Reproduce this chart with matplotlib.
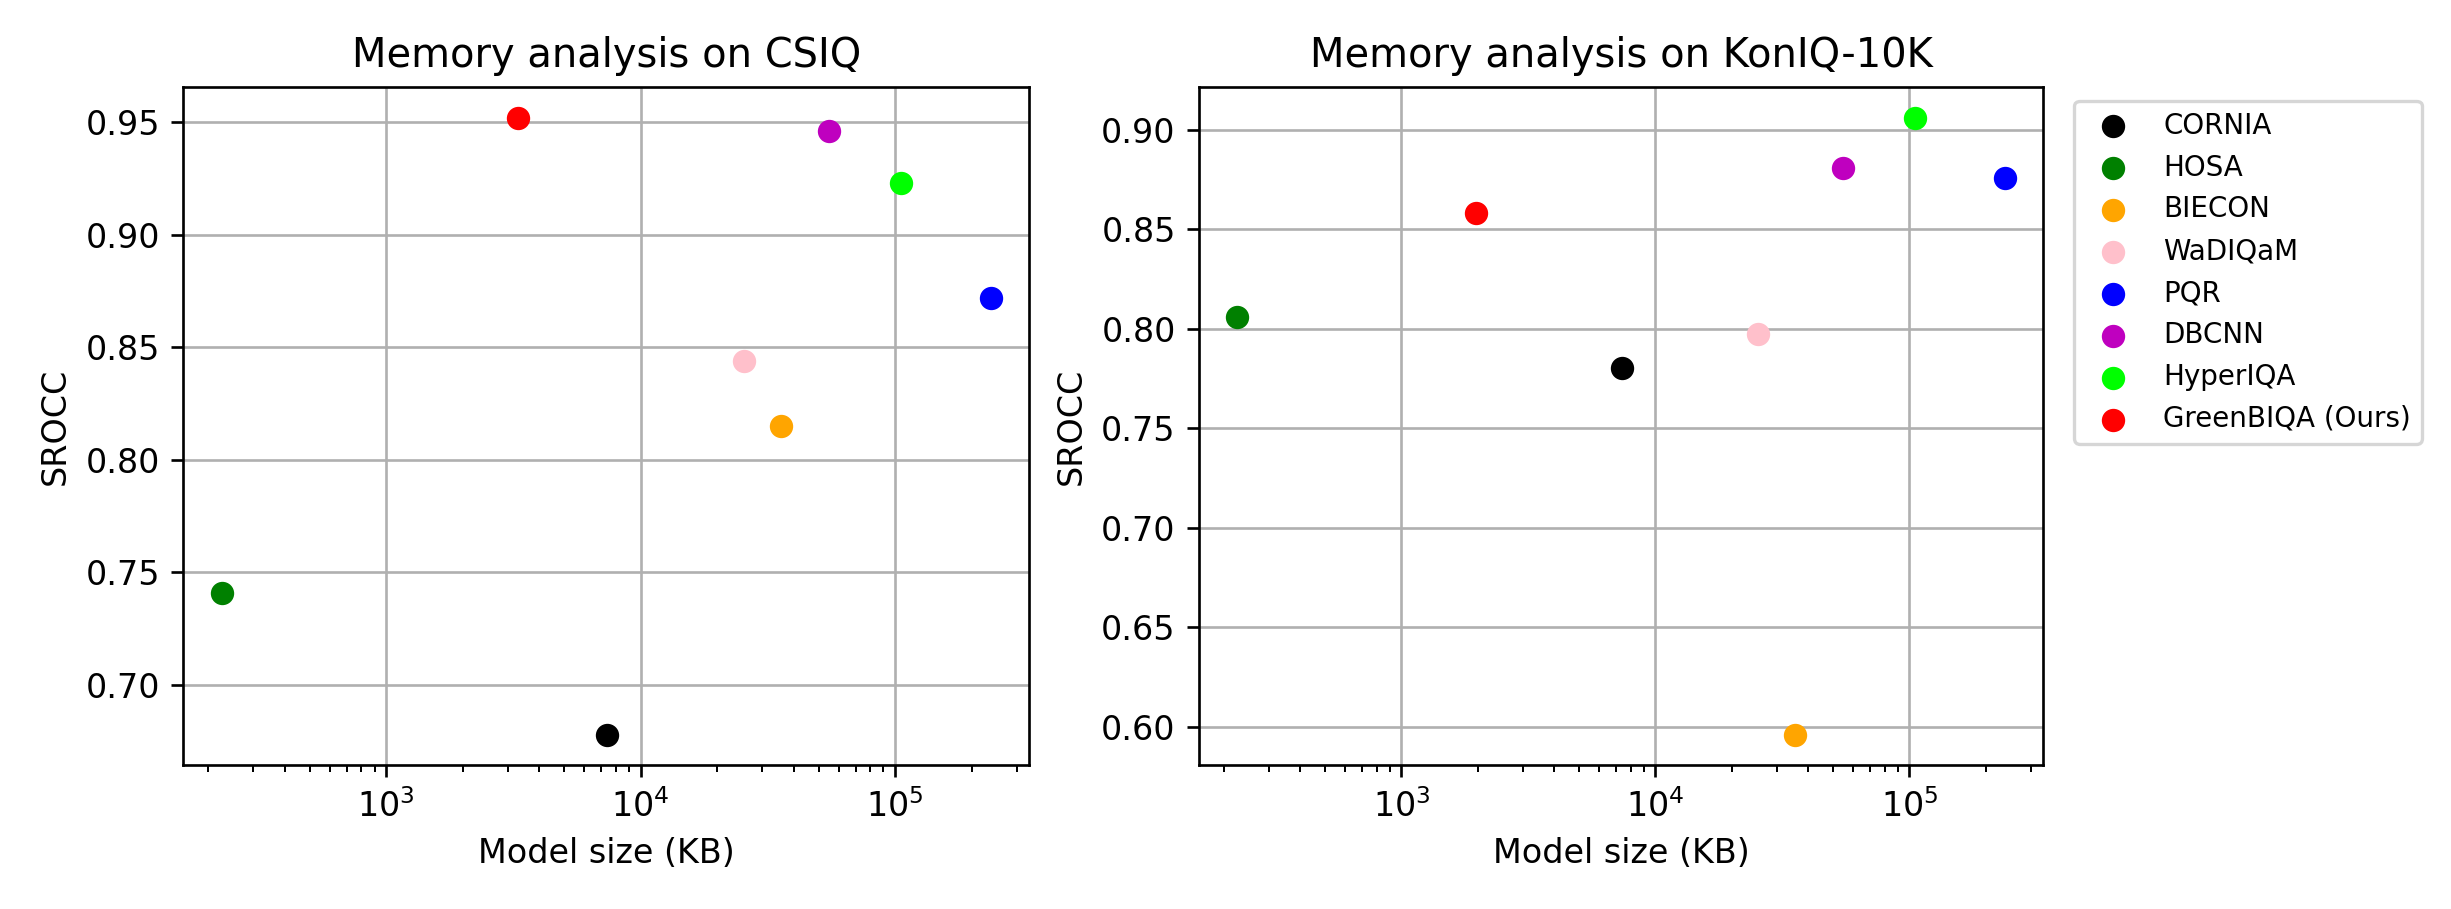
import matplotlib
matplotlib.use("Agg")
import matplotlib.pyplot as plt

methods = ["CORNIA", "HOSA", "BIECON", "WaDIQaM", "PQR", "DBCNN", "HyperIQA", "GreenBIQA (Ours)"]
colors = ["black", "green", "orange", "pink", "blue", "m", "lime", "red"]

# model size in KB
size_csiq = [7400, 226, 35500, 25400, 238000, 55000, 105000, 3300]
size_koniq = [7400, 226, 35500, 25400, 238000, 55000, 105000, 1960]

srocc_csiq = [0.678, 0.741, 0.815, 0.844, 0.872, 0.946, 0.923, 0.952]
srocc_koniq = [0.780, 0.806, 0.596, 0.797, 0.8755, 0.8805, 0.906, 0.858]

fig = plt.figure(figsize=(2451 / 240, 909 / 240), dpi=240)
ax1 = fig.add_axes([0.0748, 0.158, 0.3452, 0.7466])
ax2 = fig.add_axes([0.4892, 0.158, 0.3445, 0.7466])

for ax, sizes, scores, title in [
    (ax1, size_csiq, srocc_csiq, "Memory analysis on CSIQ"),
    (ax2, size_koniq, srocc_koniq, "Memory analysis on KonIQ-10K"),
]:
    for name, c, x, y in zip(methods, colors, sizes, scores):
        ax.scatter(x, y, color=c, label=name, zorder=3)
    ax.set_xscale("log")
    ax.set_xlabel("Model size (KB)")
    ax.set_ylabel("SROCC")
    ax.set_title(title)
    ax.grid(True)

ax2.legend(loc="upper left", bbox_to_anchor=(1.02, 1.0), fontsize="small")

fig.savefig("out.png", dpi=240)
